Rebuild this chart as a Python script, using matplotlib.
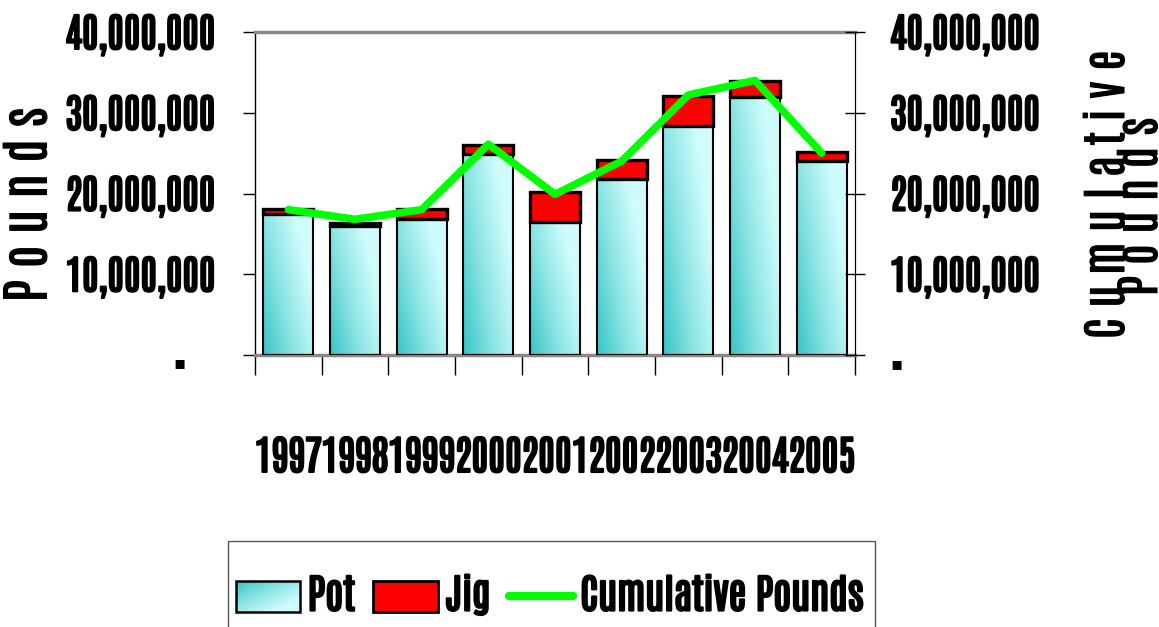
import numpy as np
import matplotlib
matplotlib.use('Agg')
import matplotlib.pyplot as plt
import matplotlib.patheffects as pe
from matplotlib.patches import Patch, Rectangle
from matplotlib.lines import Line2D
from matplotlib.colors import LinearSegmentedColormap
from matplotlib.image import BboxImage
from matplotlib.transforms import Bbox, TransformedBbox
from matplotlib.legend_handler import HandlerPatch

plt.rcParams['font.family'] = ['Antonio', 'Liberation Sans Narrow', 'DejaVu Sans']

# data (pounds)
years = ['1997', '1998', '1999', '2000', '2001', '2002', '2003', '2004', '2005']
pot = [17.4e6, 16.0e6, 16.9e6, 24.9e6, 16.5e6, 21.8e6, 28.4e6, 31.9e6, 24.0e6]
jig = [0.7e6, 0.4e6, 1.2e6, 1.1e6, 3.7e6, 2.4e6, 3.7e6, 2.0e6, 1.1e6]
cumulative = [18.0e6, 16.8e6, 18.0e6, 26.1e6, 19.9e6, 24.0e6, 32.2e6, 34.0e6, 25.0e6]
yticks = [0, 10e6, 20e6, 30e6, 40e6]
ylabels = ['10,000,000', '20,000,000', '30,000,000', '40,000,000']

teal = LinearSegmentedColormap.from_list('teal', ['#36c4c6', '#8ce4e4', '#cffcfc'])
# diagonal gradient: dark at bottom-left, light at top-right
gu, gv = np.meshgrid(np.linspace(0, 1, 64), np.linspace(0, 1, 64))
grad = np.clip((gu * 1.0 + gv * 0.6) / 1.25, 0, 1)

bold = [pe.withStroke(linewidth=1.6, foreground='black')]
semibold = [pe.withStroke(linewidth=0.8, foreground='black')]


class GradientHandler(HandlerPatch):
    def create_artists(self, legend, orig_handle, xdescent, ydescent,
                       width, height, fontsize, trans):
        bb = TransformedBbox(Bbox.from_bounds(-xdescent, -ydescent, width, height), trans)
        img = BboxImage(bb, cmap=teal, interpolation='bicubic')
        img.set_data(np.clip((gu + gv) / 1.6, 0, 1))
        rect = Rectangle((-xdescent, -ydescent), width, height,
                         facecolor='none', edgecolor='black', lw=1.8, transform=trans)
        return [img, rect]


fig = plt.figure(figsize=(11.59, 6.27), dpi=100)
ax = fig.add_axes([255 / 1159, 1 - 355 / 627, 600 / 1159, 323 / 627])

x = np.arange(len(years))
w = 0.75
pot_bars = ax.bar(x, pot, w, color='#9eeeee', edgecolor='none', zorder=2)
for b in pot_bars:
    x0, y0 = b.get_x(), b.get_y()
    im = ax.imshow(grad, extent=[x0, x0 + b.get_width(), y0, y0 + b.get_height()],
                   cmap=teal, origin='lower', aspect='auto', interpolation='bicubic',
                   vmin=0, vmax=1, zorder=2.2)
    im.set_clip_path(b)
ax.bar(x, pot, w, facecolor='none', edgecolor='black', lw=1.5, zorder=3)
ax.bar(x, jig, w, bottom=pot, color='red', edgecolor='black', lw=2.4, zorder=3)

ax.set_xlim(-0.5, len(years) - 0.5)
ax.set_ylim(0, 40e6)

# category boundaries as ticks, labels at centres
ax.set_xticks(np.arange(-0.5, len(years), 1.0))
ax.set_xticklabels([])
ax.set_xticks(x, minor=True)
year_labs = ax.set_xticklabels(years, minor=True, fontsize=29)
ax.tick_params(axis='x', which='major', direction='out', length=14.4, width=1, color='black')
ax.tick_params(axis='x', which='minor', length=0, pad=59)

ax.tick_params(axis='y', direction='out', length=8.6, width=1, pad=20)
ax.set_yticks(yticks)
left_labs = ax.set_yticklabels(['\u25aa     '] + ylabels, fontsize=28.5)
left_labs[0].set_fontsize(13)
left_labs[0].set_family('DejaVu Sans')
left_labs[0].set_va('top')

for s in ['top', 'bottom']:
    ax.spines[s].set_color('#888888')
    ax.spines[s].set_linewidth(2.5)
ax.spines['left'].set_linewidth(1)

ax2 = ax.twinx()
ax2.set_ylim(0, 40e6)
ax2.plot(x, cumulative, color='#00ff00', lw=5.5, solid_capstyle='round', solid_joinstyle='round')
ax2.tick_params(axis='y', direction='inout', length=14.4, width=1, pad=18)
ax2.set_yticks(yticks)
right_labs = ax2.set_yticklabels(['\u25aa'] + ylabels, fontsize=28.5)
right_labs[0].set_fontsize(13)
right_labs[0].set_family('DejaVu Sans')
right_labs[0].set_va('top')
for s in ['top', 'bottom', 'left']:
    ax2.spines[s].set_visible(False)

for lab in list(year_labs) + list(left_labs[1:]) + list(right_labs[1:]):
    lab.set_path_effects(bold)

fig.text(28 / 1159, 1 - 205 / 627, 'P o u n d s', rotation=90, fontsize=36,
         ha='center', va='center', path_effects=semibold)
fig.text(1107 / 1159, 1 - 195 / 627, 'C u m u l a t i v e', rotation=90,
         fontsize=33, ha='center', va='center', path_effects=semibold)
fig.text(1140 / 1159, 1 - 207 / 627, 'P o u n d s', rotation=90,
         fontsize=33, ha='center', va='center', path_effects=semibold)

# legend frame (runs off the bottom edge like the original)
fig.patches.append(Rectangle((228 / 1159, -0.05), (875 - 228) / 1159, 0.05 + (627 - 541) / 627,
                             transform=fig.transFigure, facecolor='white',
                             edgecolor='#555555', lw=1, zorder=0))

handles = [Patch(label='Pot'), Patch(facecolor='red', edgecolor='black', lw=2, label='Jig'),
           Line2D([], [], color='#00ff00', lw=6, solid_capstyle='round', label='Cumulative Pounds')]
leg = fig.legend(handles=handles, ncol=3, loc='center left',
                 bbox_to_anchor=(236 / 1159, 1 - 595 / 627), borderaxespad=0, frameon=False,
                 handlelength=1.6, handleheight=0.8, handletextpad=0.18, columnspacing=0.45,
                 borderpad=0, prop={'size': 29},
                 handler_map={handles[0]: GradientHandler()})
for t in leg.get_texts():
    t.set_path_effects(bold)

fig.savefig('out.png', dpi=100)
